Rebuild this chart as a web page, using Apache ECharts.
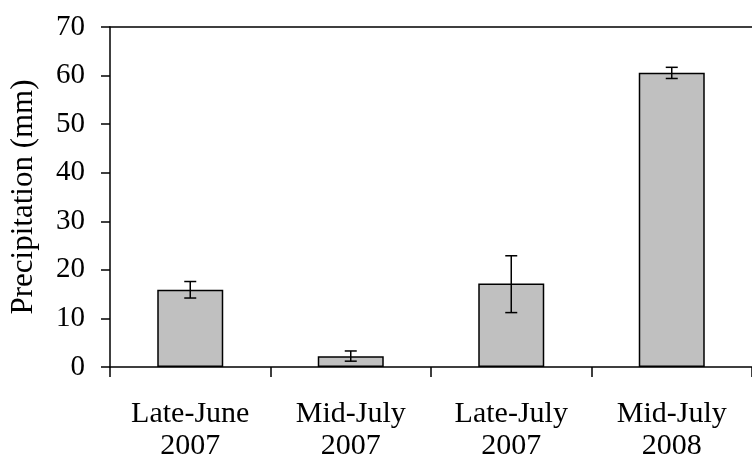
<!DOCTYPE html>
<html>
<head>
<meta charset="utf-8">
<script src="https://cdn.jsdelivr.net/npm/echarts@6/dist/echarts.min.js"></script>
<style>html,body{margin:0;padding:0;background:#fff;}#c{width:752px;height:464px;}</style>
</head>
<body>
<div id="c"></div>
<script>
var categories = ['Late-June\n2007', 'Mid-July\n2007', 'Late-July\n2007', 'Mid-July\n2008'];
var precipitation = [15.9, 2.2, 17.2, 60.6];
var errLow = [14.2, 1.2, 11.2, 59.4];
var errHigh = [17.6, 3.3, 22.9, 61.7];
var yTicks = [0, 10, 20, 30, 40, 50, 60, 70];

var chart = echarts.init(document.getElementById('c'), null, {renderer: 'canvas'});
var font = 'Liberation Serif';
var errData = categories.map(function (c, i) { return [i, errLow[i], errHigh[i]]; });

chart.setOption({
  animation: false,
  backgroundColor: '#fff',
  grid: {left: 108, top: 27, bottom: 97, right: -7, containLabel: false},
  xAxis: [{
    type: 'category',
    data: categories,
    axisLine: {lineStyle: {color: '#000', width: 1.5}},
    axisTick: {show: true, length: 10, lineStyle: {color: '#000', width: 1.5}},
    axisLabel: {color: '#000', fontFamily: font, fontSize: 30, lineHeight: 32, margin: 31, interval: 0}
  }, {
    type: 'category',
    position: 'top',
    data: categories,
    axisLine: {show: true, lineStyle: {color: '#000', width: 1.5}},
    axisTick: {show: false},
    axisLabel: {show: false}
  }],
  yAxis: {
    type: 'value',
    min: yTicks[0],
    max: yTicks[yTicks.length - 1],
    interval: 10,
    name: 'Precipitation (mm)',
    nameLocation: 'middle',
    nameGap: 71,
    nameTextStyle: {color: '#000', fontFamily: font, fontSize: 31},
    axisLine: {show: true, lineStyle: {color: '#000', width: 1.5}},
    axisTick: {show: true, length: 9, lineStyle: {color: '#000', width: 1.5}},
    axisLabel: {color: '#000', fontFamily: font, fontSize: 29, margin: 25},
    splitLine: {show: false}
  },
  series: [{
    type: 'bar',
    data: precipitation,
    barWidth: 66,
    itemStyle: {color: '#c0c0c0', borderColor: '#000', borderWidth: 1.5}
  }, {
    type: 'custom',
    data: errData,
    z: 10,
    renderItem: function (params, api) {
      var x = api.value(0);
      var lo = api.coord([x, api.value(1)]);
      var hi = api.coord([x, api.value(2)]);
      var cap = 6;
      var st = {stroke: '#000', lineWidth: 1.5};
      return {
        type: 'group',
        children: [
          {type: 'line', shape: {x1: lo[0], y1: lo[1], x2: hi[0], y2: hi[1]}, style: st},
          {type: 'line', shape: {x1: lo[0] - cap, y1: lo[1], x2: lo[0] + cap, y2: lo[1]}, style: st},
          {type: 'line', shape: {x1: hi[0] - cap, y1: hi[1], x2: hi[0] + cap, y2: hi[1]}, style: st}
        ]
      };
    }
  }]
});
</script>
</body>
</html>
